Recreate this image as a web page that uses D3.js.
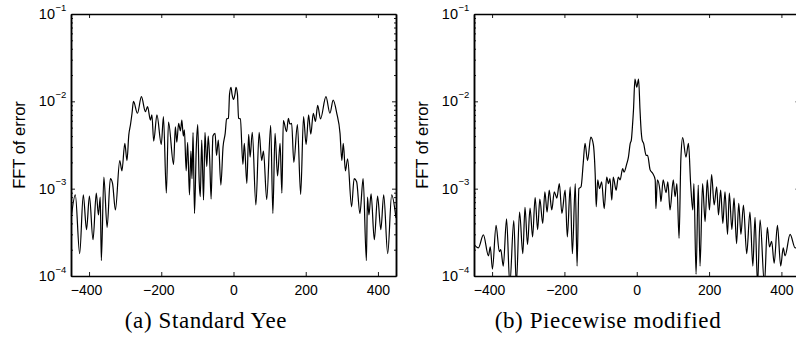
<!DOCTYPE html>
<html>
<head>
<meta charset="utf-8">
<script src="https://cdn.jsdelivr.net/npm/d3@7"></script>
<style>
  body { margin: 0; background: #fff; }
  svg { display: block; }
  .tick text { font-family: "Liberation Sans", Arial, sans-serif; }
</style>
</head>
<body>
<div id="chart"></div>
<script>
const width = 796,
    height = 338,
    top0 = 14,
    bottom0 = 276;

// x range and decade ticks shared by both panels
const xDomain = [-450, 450];
const xTicks = [-400, -200, 0, 200, 400];
const yDomain = [1e-4, 1e-1];
const yTicks = [1e-4, 1e-3, 1e-2, 1e-1];
const yTickLabels = ["\u22124", "\u22123", "\u22122", "\u22121"];

// (a) Standard Yee: peaks and troughs
const aX = [-450, -438, -426, -416, -407, -399, -389, -380, -374, -369, -366, -359, -350, -341, -335, -327,
    -315, -309, -301, -295, -290, -285, -281, -277, -266, -255, -244, -238, -230, -226, -221, -212,
    -200, -194, -186, -180, -166, -161, -157, -152, -147, -143, -139, -136, -131, -127, -122, -118,
    -115, -112, -108, -103, -99, -95, -92, -88, -83, -79, -74, -70, -66, -62, -57, -51,
    -47, -42, -35, -29, -23, -19, -14, -11, -7, -4, 0, 4, 7, 11, 14, 19,
    26, 30, 37, 42, 46, 52, 62, 71, 78, 83, 92, 103, 109, 115, 122, 129,
    134, 138, 147, 152, 156, 161, 167, 177, 186, 194, 201, 208, 214, 221, 227, 233,
    241, 256, 267, 276, 286, 295, 300, 304, 310, 316, 327, 334, 341, 350, 359, 368,
    371, 375, 381, 390, 399, 408, 416, 427, 438, 450];
const aY = [4.4e-4, 8.5e-4, 1.8e-4, 8.5e-4, 3.4e-4, 8.2e-4, 2.6e-4, 8.9e-4, 5.0e-4, 8.0e-4, 1.5e-4, 1.36e-3, 3.6e-4, 1.3e-3, 1.15e-3, 5.7e-4,
    2.1e-3, 1.6e-3, 3.3e-3, 2.1e-3, 4.1e-3, 5.5e-3, 7.3e-3, 1.0e-2, 7.3e-3, 1.13e-2, 7.6e-3, 8.7e-3, 6.1e-3, 7.0e-3, 3.5e-3, 7.0e-3,
    3.2e-3, 6.7e-3, 8.9e-4, 5.8e-3, 1.9e-3, 5.1e-3, 3.4e-3, 5.6e-3, 4.6e-3, 6.1e-3, 4.0e-3, 4.7e-3, 1.6e-3, 3.4e-3, 8.5e-4, 2.7e-3,
    1.3e-3, 4.4e-3, 5.2e-4, 3.0e-3, 5.4e-3, 1.2e-3, 8.1e-4, 3.6e-3, 7.4e-4, 4.4e-3, 1.8e-3, 4.0e-3, 2.2e-3, 7.6e-4, 4.0e-3, 4.3e-3,
    2.4e-3, 3.6e-3, 1.1e-3, 3.0e-3, 4.3e-3, 6.3e-3, 6.4e-3, 1.2e-2, 1.45e-2, 1.2e-2, 1.05e-2, 1.2e-2, 1.45e-2, 1.2e-2, 6.4e-3, 6.3e-3,
    1.9e-3, 3.3e-3, 1.15e-3, 4.2e-3, 2.3e-3, 4.4e-3, 6.5e-4, 4.4e-3, 2.1e-3, 2.7e-3, 7.5e-4, 5.3e-3, 5.2e-4, 4.3e-3, 1.4e-3, 3.3e-3,
    8.9e-4, 6.0e-3, 4.5e-3, 6.4e-3, 5.5e-3, 5.6e-3, 2.0e-3, 5.4e-3, 8.6e-4, 6.7e-3, 3.2e-3, 7.0e-3, 4.2e-3, 7.3e-3, 5.9e-3, 9.0e-3,
    6.3e-3, 1.13e-2, 7.3e-3, 1.03e-2, 7.3e-3, 4.3e-3, 2.1e-3, 3.3e-3, 1.6e-3, 2.2e-3, 6.2e-4, 1.3e-3, 1.2e-3, 5.2e-4, 1.3e-3, 1.5e-4,
    8.0e-4, 5.0e-4, 8.7e-4, 2.6e-4, 8.2e-4, 3.4e-4, 8.5e-4, 1.8e-4, 8.5e-4, 4.6e-4];

// (b) Piecewise modified
const bX = [-450, -438, -424, -410, -405, -399, -389, -380, -376, -369, -360, -351, -340, -333, -324, -315,
    -309, -302, -295, -288, -281, -274, -268, -260, -254, -248, -242, -235, -228, -221, -214, -207,
    -198, -192, -184, -178, -170, -165, -160, -154, -148, -143, -136, -127, -120, -115, -112, -108,
    -103, -97, -90, -83, -78, -74, -69, -65, -57, -51, -46, -39, -35, -28, -23, -18,
    -15, -12, -9, -5, 0, 5, 9, 12, 15, 19, 26, 30, 37, 44, 51, 53,
    57, 64, 67, 73, 81, 86, 92, 101, 106, 111, 117, 122, 127, 136, 143, 149,
    155, 158, 164, 170, 175, 182, 189, 195, 201, 207, 214, 221, 226, 232, 238, 244,
    251, 256, 263, 269, 276, 282, 288, 295, 304, 313, 321, 327, 334, 341, 353, 361,
    367, 373, 380, 389, 398, 405, 410, 424, 438, 450];
const bY = [2.3e-4, 2.1e-4, 2.95e-4, 1.7e-4, 2.15e-4, 1.2e-4, 3.8e-4, 1.9e-4, 2.0e-4, 1.3e-4, 4.5e-4, 8e-5, 4.3e-4, 8e-5, 5.4e-4, 1.8e-4,
    6.1e-4, 2.3e-4, 6.0e-4, 2.8e-4, 7.9e-4, 3.4e-4, 7.6e-4, 4.0e-4, 9.2e-4, 5.4e-4, 9.6e-4, 5.7e-4, 9.2e-4, 7.8e-4, 1.14e-3, 5.2e-4,
    9.6e-4, 2.8e-4, 1.05e-3, 1.8e-4, 1.14e-3, 1.3e-4, 1.0e-3, 1.05e-3, 1.95e-3, 3.3e-3, 2.1e-3, 3.9e-3, 3.2e-3, 1.5e-3, 6.2e-4, 1.26e-3,
    1.0e-3, 1.2e-3, 5.9e-4, 1.36e-3, 1.14e-3, 1.3e-3, 7.4e-4, 1.36e-3, 9.6e-4, 1.36e-3, 1.26e-3, 1.7e-3, 1.55e-3, 1.9e-3, 2.3e-3, 3.3e-3,
    3.6e-3, 5.1e-3, 8.0e-3, 1.8e-2, 1.45e-2, 1.8e-2, 8.0e-3, 4.7e-3, 3.6e-3, 3.3e-3, 2.4e-3, 2.4e-3, 1.64e-3, 1.5e-3, 1.26e-3, 5.9e-4,
    1.26e-3, 9.6e-4, 7.1e-4, 1.26e-3, 9.0e-4, 1.2e-3, 5.7e-4, 1.26e-3, 8.1e-4, 1.14e-3, 2.7e-4, 2.2e-3, 3.85e-3, 2.3e-3, 3.3e-3, 1.14e-3,
    5.7e-4, 1.14e-3, 1.05e-4, 1.1e-3, 1.3e-4, 1.14e-3, 4.2e-4, 1.26e-3, 5.7e-4, 1.45e-3, 6.5e-4, 1.05e-3, 5.0e-4, 9.6e-4, 4.0e-4, 9.2e-4,
    3.0e-4, 8.9e-4, 3.4e-4, 7.8e-4, 2.35e-4, 6.8e-4, 3.0e-4, 6.5e-4, 1.8e-4, 5.4e-4, 1.3e-4, 4.7e-4, 8e-5, 4.4e-4, 8e-5, 3.6e-4,
    2.15e-4, 2.5e-4, 1.4e-4, 3.8e-4, 1.3e-4, 2.1e-4, 1.7e-4, 3.0e-4, 2.1e-4, 2.3e-4];

const panels = [
    { id: "a", left: 71, right: 396, xs: aX, ys: aY, caption: "(a) Standard Yee", capX: 206, labelX: 25 },
    { id: "b", left: 474, right: 799.5, xs: bX, ys: bY, caption: "(b) Piecewise modified", capX: 608, labelX: 428 }
];

const svg = d3.select("#chart").append("svg")
    .attr("width", width)
    .attr("height", height);

// minor ticks 2..9 within each decade
const minorTicks = [];
for (const d of [1e-4, 1e-3, 1e-2]) {
    for (let k = 2; k <= 9; k++) minorTicks.push(d * k);
}

panels.forEach(p => {
    const x = d3.scaleLinear().domain(xDomain).range([p.left, p.right]);
    const y = d3.scaleLog().domain(yDomain).range([bottom0, top0]);

    const g = svg.append("g");

    g.append("clipPath").attr("id", "clip-" + p.id)
        .append("rect")
        .attr("x", p.left).attr("y", top0)
        .attr("width", p.right - p.left).attr("height", bottom0 - top0);

    const line = d3.line()
        .x((d, i) => x(p.xs[i]))
        .y(d => y(d))
        .curve(d3.curveMonotoneX);

    g.append("path")
        .datum(p.ys)
        .attr("clip-path", "url(#clip-" + p.id + ")")
        .attr("fill", "none")
        .attr("stroke", "#000")
        .attr("stroke-width", 1.2)
        .attr("d", line);

    // bottom axis with labels
    const xAxis = d3.axisBottom(x).tickValues(xTicks)
        .tickSizeInner(-4).tickSizeOuter(0).tickPadding(9)
        .tickFormat(d => d < 0 ? "\u2212" + Math.abs(d) : d);
    const gx = g.append("g").attr("transform", `translate(0,${bottom0})`).call(xAxis);
    gx.selectAll("text").attr("font-size", 14).attr("fill", "#000")
        .attr("dx", d => d < 0 ? -3 : 0);

    // top axis, ticks only
    g.append("g").attr("transform", `translate(0,${top0})`)
        .call(d3.axisTop(x).tickValues(xTicks).tickSizeInner(-4).tickSizeOuter(0).tickFormat(""));

    // left and right axes
    g.append("g").attr("transform", `translate(${p.left},0)`)
        .call(d3.axisLeft(y).tickValues(yTicks).tickSizeInner(-4).tickSizeOuter(0).tickFormat(""));
    g.append("g").attr("transform", `translate(${p.left},0)`)
        .call(d3.axisLeft(y).tickValues(minorTicks).tickSizeInner(-2).tickSizeOuter(0).tickFormat(""));
    g.append("g").attr("transform", `translate(${p.right},0)`)
        .call(d3.axisRight(y).tickValues(yTicks).tickSizeInner(-4).tickSizeOuter(0).tickFormat(""));
    g.append("g").attr("transform", `translate(${p.right},0)`)
        .call(d3.axisRight(y).tickValues(minorTicks).tickSizeInner(-2).tickSizeOuter(0).tickFormat(""));

    g.selectAll(".domain").attr("stroke", "#000").attr("stroke-width", 1.5);
    g.selectAll(".tick line").attr("stroke", "#000").attr("stroke-width", 0.9);

    // decade labels 10^n
    const labels = g.append("g")
        .attr("font-family", "'Liberation Sans', Arial, sans-serif")
        .attr("fill", "#000");
    yTicks.forEach((t, i) => {
        labels.append("text")
            .attr("x", p.left - 16)
            .attr("y", y(t) + 5)
            .attr("text-anchor", "end")
            .attr("font-size", 14.5)
            .text("10");
        labels.append("text")
            .attr("x", p.left - 15.5)
            .attr("y", y(t) - 3.5)
            .attr("font-size", 9.5)
            .text(yTickLabels[i]);
    });

    // y label
    g.append("text")
        .attr("transform", `translate(${p.labelX},${(top0 + bottom0) / 2}) rotate(-90)`)
        .attr("text-anchor", "middle")
        .attr("font-family", "'Liberation Sans', Arial, sans-serif")
        .attr("font-size", 16.5)
        .text("FFT of error");

    // caption
    g.append("text")
        .attr("x", p.capX)
        .attr("y", 328)
        .attr("text-anchor", "middle")
        .attr("font-family", "'Liberation Serif', 'Times New Roman', serif")
        .attr("font-size", 23)
        .attr("letter-spacing", 0.6)
        .text(p.caption);
});
</script>
</body>
</html>
